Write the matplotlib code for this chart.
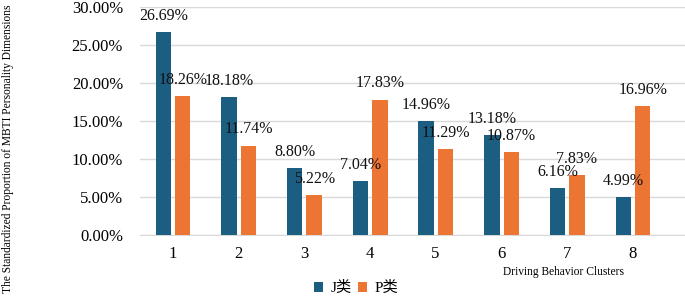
import numpy as np
import matplotlib
matplotlib.use("Agg")
import matplotlib.pyplot as plt

# data
clusters = ["1", "2", "3", "4", "5", "6", "7", "8"]
j_vals = [26.69, 18.18, 8.80, 7.04, 14.96, 13.18, 6.16, 4.99]
p_vals = [18.26, 11.74, 5.22, 17.83, 11.29, 10.87, 7.83, 16.96]
legend_labels = ["J类", "P类"]
y_ticks = [0, 5, 10, 15, 20, 25, 30]

blue = "#1B5E82"
orange = "#ED7533"

plt.rcParams["font.family"] = ["Liberation Serif", "Noto Sans CJK SC", "DejaVu Sans"]

fig = plt.figure(figsize=(6.85, 2.97), dpi=100)
ax = fig.add_axes([0.204, 0.209, 0.796, 0.767])

x = np.arange(1, len(clusters) + 1)
w = 0.235
b1 = ax.bar(x - 0.14, j_vals, w, color=blue, label=legend_labels[0], zorder=3)
b2 = ax.bar(x + 0.155, p_vals, w, color=orange, label=legend_labels[1], zorder=3)

for bars, vals in [(b1, j_vals), (b2, p_vals)]:
    for r, v in zip(bars, vals):
        ax.annotate(f"{v:.2f}%", (r.get_x() + r.get_width() / 2, v),
                    xytext=(0, 6), textcoords="offset points",
                    ha="center", va="bottom", fontsize=11.5, color="#111111")

ax.set_xlim(0.5, 8.8)
ax.set_ylim(0, 30)
ax.set_yticks(y_ticks)
ax.set_yticklabels([f"{t:.2f}%" for t in y_ticks], fontsize=12)
ax.set_xticks(x)
ax.set_xticklabels(clusters, fontsize=12)
ax.tick_params(axis="both", length=0, pad=8)
ax.tick_params(axis="y", pad=12)
ax.grid(axis="y", color="#d9d9d9", linewidth=1, zorder=0)
for s in ["top", "right", "left"]:
    ax.spines[s].set_visible(False)
ax.spines["bottom"].set_color("#d9d9d9")

fig.text(0.012, 0.5, "The Standardized Proportion of MBTI Personality Dimensions",
         rotation=90, ha="center", va="center", fontsize=8.3)
fig.text(0.822, 0.083, "Driving Behavior Clusters", ha="center", va="center", fontsize=8.3)

fig.legend(loc="center", bbox_to_anchor=(0.52, 0.03), ncol=2, frameon=False,
           fontsize=11, handlelength=0.6, handleheight=0.6, columnspacing=0.4,
           handletextpad=0.5)

fig.savefig("out.png", dpi=100)
